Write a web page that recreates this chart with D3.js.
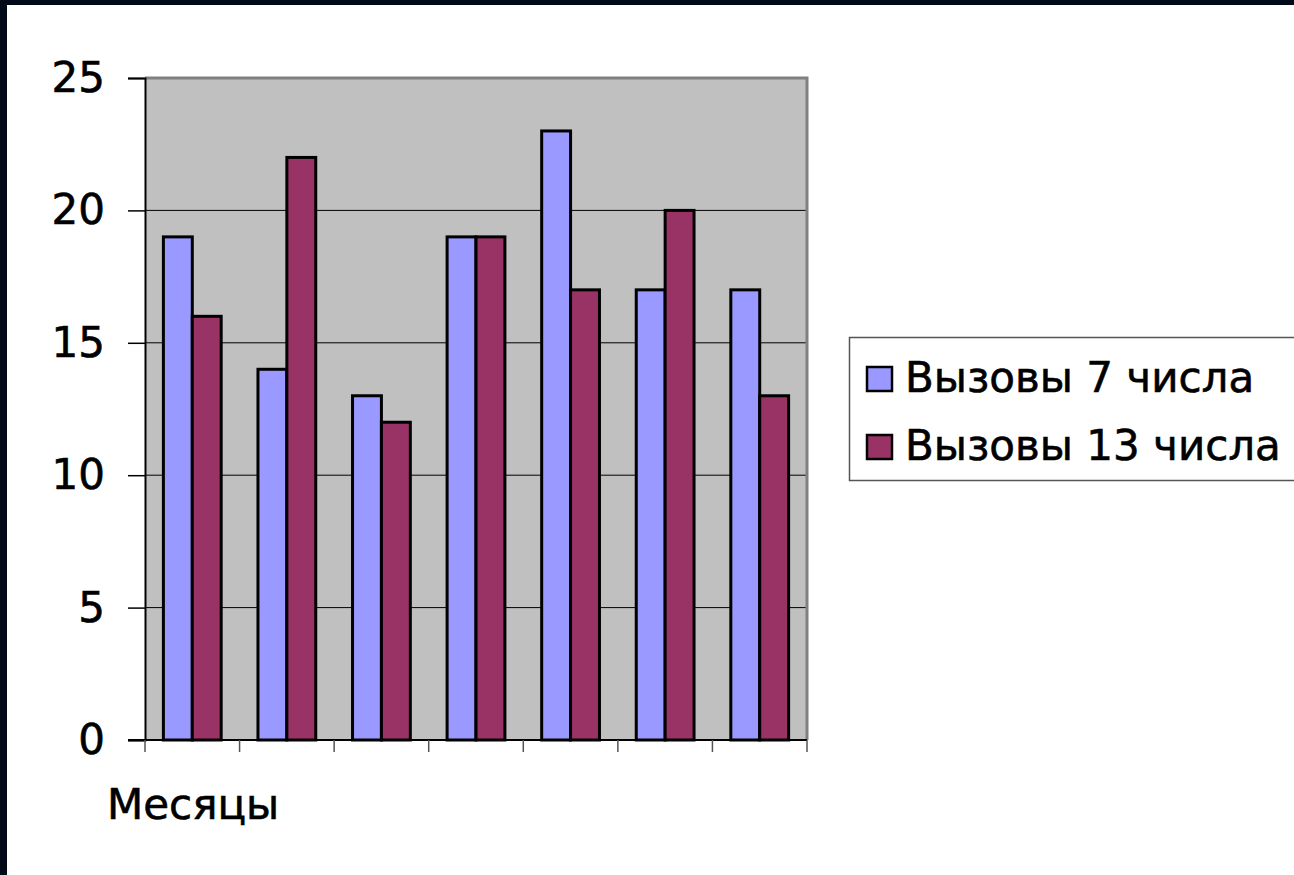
<!DOCTYPE html>
<html>
<head>
<meta charset="utf-8">
<style>
  html, body { margin: 0; padding: 0; background: #000a18; }
  svg { display: block; }
  text { stroke: #000; stroke-width: 0.6px; }
</style>
</head>
<body>
<svg width="1294" height="875"></svg>
<script src="https://d3js.org/d3.v7.min.js"></script>
<script>

var months = ["1", "2", "3", "4", "5", "6", "7"];
var seriesNames = ["Вызовы 7 числа", "Вызовы 13 числа"];
var calls7 = [19, 14, 13, 19, 23, 17, 17];
var calls13 = [16, 22, 12, 19, 17, 20, 13];
var yTicks = [0, 5, 10, 15, 20, 25];
var colors = ["#9999ff", "#993366"];

var svg = d3.select("svg");

// white page inside the dark frame
svg.append("rect").attr("x", 7).attr("y", 5).attr("width", 1294 - 7).attr("height", 875 - 5).attr("fill", "#fff");

var pLeft = 145, pRight = 807, pTop = 78, pBottom = 740;

var x = d3.scaleBand().domain(months).range([pLeft, pRight]).paddingInner(0).paddingOuter(0);
var y = d3.scaleLinear().domain([0, 25]).range([pBottom, pTop]);

var inner = d3.scaleBand().domain([0, 1]).range([0, x.bandwidth()]).paddingInner(0).paddingOuter(0.6364);

// plot area
svg.append("rect")
  .attr("x", pLeft).attr("y", pTop)
  .attr("width", pRight - pLeft).attr("height", pBottom - pTop)
  .attr("fill", "#c0c0c0");

// grid lines
svg.append("g").selectAll("line")
  .data(yTicks.filter(function(d) { return d > 0 && d < 25; }))
  .enter().append("line")
  .attr("x1", pLeft).attr("x2", pRight)
  .attr("y1", function(d) { return y(d); }).attr("y2", function(d) { return y(d); })
  .attr("stroke", "#000").attr("stroke-width", 1);

// top and right border of plot area
svg.append("path")
  .attr("d", "M" + pLeft + "," + pTop + "H" + pRight + "V" + pBottom)
  .attr("fill", "none").attr("stroke", "#808080").attr("stroke-width", 3);

// bars
var groups = svg.append("g").selectAll("g")
  .data(months)
  .enter().append("g")
  .attr("transform", function(d) { return "translate(" + x(d) + ",0)"; });

groups.selectAll("rect")
  .data(function(d, i) { return [calls7[i], calls13[i]]; })
  .enter().append("rect")
  .attr("x", function(d, j) { return inner(j); })
  .attr("width", inner.bandwidth())
  .attr("y", function(d) { return y(d); })
  .attr("height", function(d) { return y(0) - y(d); })
  .attr("fill", function(d, j) { return colors[j]; })
  .attr("stroke", "#000")
  .attr("stroke-width", 3);

// y axis
var yAxis = svg.append("g")
  .attr("transform", "translate(" + pLeft + ",0)")
  .call(d3.axisLeft(y).tickValues(yTicks).tickSize(17).tickPadding(23));
yAxis.select(".domain").attr("stroke", "#000").attr("stroke-width", 2);
yAxis.selectAll(".tick line").attr("stroke", "#000").attr("stroke-width", 1.5);
yAxis.selectAll("text")
  .attr("font-family", "DejaVu Sans")
  .attr("font-size", 42)
  .attr("fill", "#000");

// x axis (ticks only at category boundaries)
var xAxis = svg.append("g")
  .attr("transform", "translate(0," + pBottom + ")");
xAxis.append("line")
  .attr("x1", pLeft - 17).attr("x2", pRight)
  .attr("stroke", "#000").attr("stroke-width", 2);
xAxis.selectAll(".bt")
  .data(months.map(function(d) { return x(d); }).concat([pRight]))
  .enter().append("line")
  .attr("class", "bt")
  .attr("x1", function(d) { return d; }).attr("x2", function(d) { return d; })
  .attr("y1", 0).attr("y2", 12)
  .attr("stroke", "#555").attr("stroke-width", 1.5);

// axis title
svg.append("text")
  .attr("x", 107).attr("y", 819)
  .attr("font-family", "DejaVu Sans")
  .attr("font-size", 42)
  .attr("fill", "#000")
  .text("Месяцы");

// legend
var lg = svg.append("g");
lg.append("rect")
  .attr("x", 849.5).attr("y", 337.5)
  .attr("width", 460).attr("height", 143)
  .attr("fill", "#fff").attr("stroke", "#555").attr("stroke-width", 1.5);

var items = lg.selectAll(".item")
  .data(seriesNames)
  .enter().append("g")
  .attr("class", "item")
  .attr("transform", function(d, i) { return "translate(0," + (i * 68) + ")"; });

items.append("rect")
  .attr("x", 867).attr("y", 367)
  .attr("width", 25).attr("height", 24)
  .attr("fill", function(d, i) { return colors[i]; })
  .attr("stroke", "#000").attr("stroke-width", 2.5);

items.append("text")
  .attr("x", 905).attr("y", 392)
  .attr("font-family", "DejaVu Sans")
  .attr("font-size", 42)
  .attr("fill", "#000")
  .text(function(d) { return d; });

</script>
</body>
</html>
